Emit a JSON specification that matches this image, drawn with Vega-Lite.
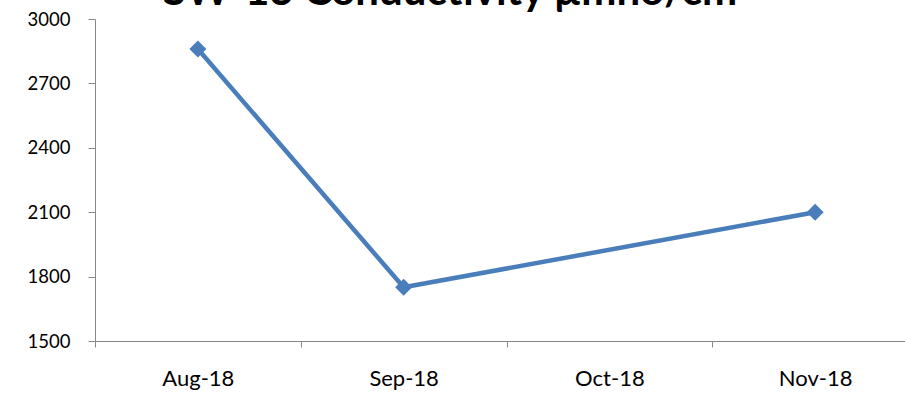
{
  "$schema": "https://vega.github.io/schema/vega-lite/v6.json",
  "autosize": {"type": "none"},
  "padding": {"left": 95, "top": 19, "right": 0, "bottom": 57},
  "width": 823,
  "height": 322,
  "background": "white",
  "title": {
    "text": "SW-13 Conductivity µmho/cm",
    "anchor": "start",
    "frame": "group",
    "dx": 68,
    "offset": -37,
    "font": "Lato",
    "fontSize": 42,
    "fontWeight": "bold",
    "color": "black",
    "baseline": "alphabetic"
  },
  "data": {
    "values": [
      {"month": "Aug-18", "value": 2860},
      {"month": "Sep-18", "value": 1750},
      {"month": "Oct-18", "value": null},
      {"month": "Nov-18", "value": 2100}
    ]
  },
  "transform": [{"filter": "datum.value != null"}],
  "encoding": {
    "x": {
      "field": "month",
      "type": "ordinal",
      "sort": null,
      "scale": {"domain": ["Aug-18", "Sep-18", "Oct-18", "Nov-18"], "paddingInner": 0, "paddingOuter": 0},
      "axis": {
        "title": null,
        "labelAngle": 0,
        "tickBand": "extent",
        "labelPadding": 21,
        "labelFont": "Lato",
        "labelFontSize": 22,
        "labelColor": "black",
        "domainColor": "#888888",
        "tickColor": "#888888",
        "tickSize": 6
      }
    },
    "y": {
      "field": "value",
      "type": "quantitative",
      "scale": {"domain": [1500, 3000], "nice": false, "zero": false},
      "axis": {
        "title": null,
        "values": [1500, 1800, 2100, 2400, 2700, 3000],
        "format": "d",
        "grid": false,
        "labelFont": "Lato",
        "labelFontSize": 18.5,
        "labelColor": "black",
        "labelPadding": 18,
        "domainColor": "#888888",
        "tickColor": "#888888",
        "tickSize": 7
      }
    }
  },
  "layer": [
    {"mark": {"type": "line", "color": "#4a7ebb", "strokeWidth": 4.5}},
    {"mark": {"type": "point", "shape": "diamond", "filled": true, "color": "#4a7ebb", "size": 290, "opacity": 1}}
  ],
  "config": {"view": {"stroke": null}}
}
